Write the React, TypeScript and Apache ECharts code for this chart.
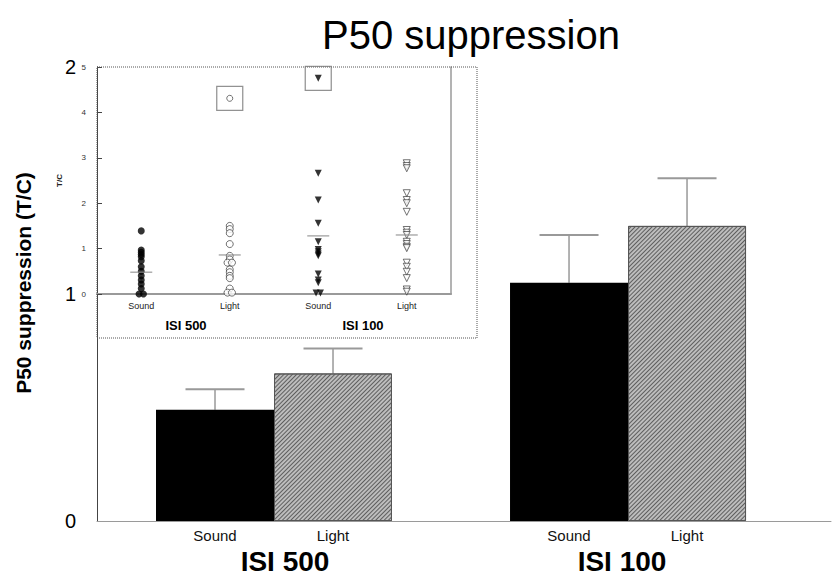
import React, { useEffect, useRef } from "react";
import * as echarts from "echarts";

// ---- data ----
const groups = ["ISI 500", "ISI 100"];
const conditions = ["Sound", "Light"];
// main bars, order: ISI500 Sound, ISI500 Light, ISI100 Sound, ISI100 Light
const meanTC = [0.49, 0.65, 1.05, 1.3];
const semTC = [0.09, 0.11, 0.21, 0.21];
const mainTicks = [0, 1, 2];

// inset: individual subjects' T/C ratios
const isi500Sound = [1.39, 0.97, 0.92, 0.87, 0.82, 0.73, 0.6, 0.5, 0.4, 0.31, 0.22, 0.12, 0, 0];
const isi500Light = [1.5, 1.43, 1.34, 1.1, 0.84, 0.76, 0.69, 0.69, 0.54, 0.48, 0.4, 0.35, 0.12, 0.03, 0.03];
const isi100Sound = [2.66, 2.07, 1.56, 1.15, 0.98, 0.93, 0.88, 0.84, 0.44, 0.31, 0.25, 0.02, 0.02];
const isi100Light = [2.88, 2.82, 2.77, 2.22, 2.07, 2.0, 1.81, 1.41, 1.35, 1.3, 1.15, 1.1, 1.04, 1.01, 0.69, 0.6, 0.49, 0.35, 0.1, 0.05];
const insetMeans = [0.48, 0.86, 1.28, 1.3];
const insetOutliers: (number | null)[] = [null, 4.31, 4.75, null];
const insetCategories = ["Sound", "Light", "Sound", "Light"];

const FONT = "'Liberation Sans', Arial, Helvetica, sans-serif";

// dodge identical values sideways (beeswarm-like)
function dodge(vals: number[], center: number, step: number): number[][] {
  const counts: Record<string, number> = {};
  vals.forEach((v) => (counts[v.toFixed(2)] = (counts[v.toFixed(2)] || 0) + 1));
  const seen: Record<string, number> = {};
  return vals.map((v) => {
    const k = v.toFixed(2);
    const n = counts[k];
    const i = seen[k] || 0;
    seen[k] = i + 1;
    return [center + (i - (n - 1) / 2) * step, v];
  });
}

export default function App() {
  const ref = useRef<HTMLDivElement>(null);

  useEffect(() => {
    document.body.style.margin = "0";
    if (!ref.current) return;
    const chart = echarts.init(ref.current, undefined, { renderer: "svg" });

    // slot positions on main x value axis: group g, condition c -> g*3 + c + 1
    const slots: number[] = [];
    const slotLabel: Record<number, string> = {};
    groups.forEach((_, g) =>
      conditions.forEach((c, ci) => {
        const x = g * 3 + ci + 1;
        slots.push(x);
        slotLabel[x] = c;
      })
    );

    const lightStyle = {
      color: "#bdbdbd",
      borderColor: "#555",
      borderWidth: 1,
      decal: {
        symbol: "rect",
        symbolSize: 1,
        color: "#5e5e5e",
        dashArrayX: [1, 0],
        dashArrayY: [1, 2],
        rotation: -Math.PI / 4,
      },
    };

    const barData = meanTC.map((m, i) => ({
      value: [slots[i], m],
      itemStyle: i % 2 === 0 ? { color: "#000" } : lightStyle,
    }));
    const errData = meanTC.map((m, i) => [slots[i], m, m + semTC[i]]);

    const insetSets = [isi500Sound, isi500Light, isi100Sound, isi100Light];
    const insetSymbols = [
      { symbol: "circle", rot: 0, fill: "#000" },
      { symbol: "circle", rot: 0, fill: "#fff" },
      { symbol: "triangle", rot: 180, fill: "#000" },
      { symbol: "triangle", rot: 180, fill: "#fff" },
    ];

    const insetSeries: any[] = insetSets.map((vals, i) => ({
      type: "scatter",
      xAxisIndex: 2,
      yAxisIndex: 1,
      data: dodge(vals, i, 0.05),
      symbol: insetSymbols[i].symbol,
      symbolRotate: insetSymbols[i].rot,
      symbolSize: 7,
      itemStyle: {
        color: insetSymbols[i].fill,
        borderColor: "#222",
        borderWidth: insetSymbols[i].fill === "#fff" ? 0.8 : 0,
      },
      z: 5,
    }));

    // outlier points with a box around them
    const outPts: number[][] = [];
    insetOutliers.forEach((v, i) => {
      if (v !== null) outPts.push([i, v]);
    });
    insetSeries.push({
      type: "scatter",
      xAxisIndex: 2,
      yAxisIndex: 1,
      data: outPts.filter((p) => p[0] === 1),
      symbol: "circle",
      symbolSize: 6,
      itemStyle: { color: "#fff", borderColor: "#222", borderWidth: 0.8 },
      z: 5,
    });
    insetSeries.push({
      type: "scatter",
      xAxisIndex: 2,
      yAxisIndex: 1,
      data: outPts.filter((p) => p[0] === 2),
      symbol: "triangle",
      symbolRotate: 180,
      symbolSize: 7,
      itemStyle: { color: "#000" },
      z: 5,
    });
    insetSeries.push({
      type: "scatter",
      xAxisIndex: 2,
      yAxisIndex: 1,
      data: outPts,
      symbol: "rect",
      symbolSize: [26, 24],
      itemStyle: { color: "rgba(0,0,0,0)", borderColor: "#777", borderWidth: 1.2 },
      z: 4,
    });
    insetSeries.push({
      type: "scatter",
      xAxisIndex: 2,
      yAxisIndex: 1,
      data: insetMeans.map((m, i) => [i, m]),
      symbol: "rect",
      symbolSize: [22, 1.3],
      itemStyle: { color: "#8a8a8a" },
      z: 6,
    });

    const option: any = {
      animation: false,
      backgroundColor: "#fff",
      textStyle: { fontFamily: FONT },
      grid: [
        { left: 97, right: 0, top: 67, bottom: 56 },
        { left: 97, top: 67, width: 354, height: 227 },
      ],
      xAxis: [
        {
          type: "value",
          gridIndex: 0,
          min: 0,
          max: 6.22,
          interval: 1,
          axisLine: { show: true, onZero: false, lineStyle: { color: "#9a9a9a", width: 1 } },
          axisTick: { show: false },
          splitLine: { show: false },
          axisLabel: {
            formatter: (v: number) => slotLabel[Math.round(v)] || "",
            fontSize: 15,
            color: "#111",
            margin: 7,
            fontFamily: FONT,
          },
        },
        {
          type: "category",
          gridIndex: 1,
          data: insetCategories,
          axisLine: { show: true, onZero: false, lineStyle: { color: "#9a9a9a", width: 2 } },
          axisTick: { show: false },
          axisLabel: { fontSize: 9, color: "#222", margin: 7, fontFamily: FONT },
        },
        {
          type: "value",
          gridIndex: 1,
          min: -0.5,
          max: 3.5,
          show: false,
          axisLine: { onZero: false },
        },
      ],
      yAxis: [
        {
          type: "value",
          gridIndex: 0,
          min: mainTicks[0],
          max: mainTicks[mainTicks.length - 1],
          interval: 1,
          axisLine: { show: true, onZero: false, lineStyle: { color: "#444", width: 1 } },
          axisTick: { show: false },
          splitLine: { show: false },
          axisLabel: { fontSize: 20, color: "#000", margin: 21, fontFamily: FONT },
        },
        {
          type: "value",
          gridIndex: 1,
          min: 0,
          max: 5,
          interval: 1,
          name: "T/C",
          nameLocation: "middle",
          nameGap: 34,
          nameTextStyle: { fontSize: 8, fontWeight: "bold", color: "#222", fontFamily: FONT },
          axisLine: { show: true, onZero: false, lineStyle: { color: "#444", width: 1 } },
          axisTick: { show: true, inside: true, length: 5, lineStyle: { color: "#444" } },
          splitLine: { show: false },
          axisLabel: { fontSize: 8, color: "#333", margin: 11, fontFamily: FONT },
        },
        {
          type: "value",
          gridIndex: 1,
          position: "right",
          min: 0,
          max: 5,
          axisLine: { show: true, onZero: false, lineStyle: { color: "#9a9a9a", width: 1.5 } },
          axisTick: { show: false },
          axisLabel: { show: false },
          splitLine: { show: false },
        },
      ],
      graphic: [
        {
          type: "rect",
          shape: { x: 97, y: 67, width: 380, height: 271 },
          style: { fill: "none", stroke: "#555", lineWidth: 1, lineDash: [1, 1] },
          z: 1,
        },
        {
          type: "text",
          x: 471,
          y: 35,
          style: {
            text: "P50 suppression",
            font: `normal 40px ${FONT}`,
            fill: "#000",
            textAlign: "center",
            textVerticalAlign: "middle",
          },
        },
        {
          type: "text",
          x: 23,
          y: 283,
          rotation: Math.PI / 2,
          style: {
            text: "P50 suppression (T/C)",
            font: `bold 21px ${FONT}`,
            fill: "#000",
            textAlign: "center",
            textVerticalAlign: "middle",
          },
        },
        {
          type: "text",
          x: 285,
          y: 561,
          style: {
            text: groups[0],
            font: `bold 28px ${FONT}`,
            fill: "#000",
            textAlign: "center",
            textVerticalAlign: "middle",
          },
        },
        {
          type: "text",
          x: 622,
          y: 561,
          style: {
            text: groups[1],
            font: `bold 28px ${FONT}`,
            fill: "#000",
            textAlign: "center",
            textVerticalAlign: "middle",
          },
        },
        {
          type: "text",
          x: 186,
          y: 325,
          style: {
            text: groups[0],
            font: `bold 13px ${FONT}`,
            fill: "#000",
            textAlign: "center",
            textVerticalAlign: "middle",
          },
        },
        {
          type: "text",
          x: 363,
          y: 325,
          style: {
            text: groups[1],
            font: `bold 13px ${FONT}`,
            fill: "#000",
            textAlign: "center",
            textVerticalAlign: "middle",
          },
        },
      ],
      series: [
        {
          type: "custom",
          xAxisIndex: 0,
          yAxisIndex: 0,
          data: errData,
          z: 1,
          renderItem: (params: any, api: any) => {
            const x = api.value(0);
            const p0 = api.coord([x, api.value(1)]);
            const p1 = api.coord([x, api.value(2)]);
            const half = api.size([1, 0])[0] / 4;
            return {
              type: "group",
              children: [
                {
                  type: "line",
                  shape: { x1: p0[0], y1: p0[1], x2: p1[0], y2: p1[1] },
                  style: { stroke: "#999", lineWidth: 1.5 },
                },
                {
                  type: "line",
                  shape: { x1: p1[0] - half, y1: p1[1], x2: p1[0] + half, y2: p1[1] },
                  style: { stroke: "#999", lineWidth: 2 },
                },
              ],
            };
          },
        },
        {
          type: "bar",
          xAxisIndex: 0,
          yAxisIndex: 0,
          barWidth: 118,
          data: barData,
          z: 2,
        },
        ...insetSeries,
      ],
    };

    chart.setOption(option);
    return () => chart.dispose();
  }, []);

  return <div ref={ref} style={{ width: 834, height: 577 }} />;
}
